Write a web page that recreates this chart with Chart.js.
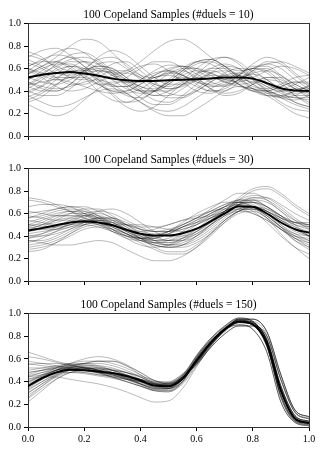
<!DOCTYPE html>
<html><head><meta charset="utf-8">
<script src="https://cdn.jsdelivr.net/npm/chart.js@4/dist/chart.umd.min.js"></script>
<style>
html,body{margin:0;padding:0;background:#fff;}
body{width:325px;height:453px;position:relative;overflow:hidden;}
canvas{position:absolute;left:0;}
</style></head><body>
<canvas id="c1" width="325" height="145" style="top:0px"></canvas>
<canvas id="c2" width="325" height="145" style="top:145px"></canvas>
<canvas id="c3" width="325" height="163" style="top:290px"></canvas>
<script>
// x positions of every curve value
const xGrid = [0,0.05,0.1,0.15,0.2,0.25,0.3,0.35,0.4,0.45,0.5,0.55,0.6,0.65,0.7,0.75,0.8,0.85,0.9,0.95,1.0];
const xTicks = [0,0.2,0.4,0.6,0.8,1.0];
const yTicks = [0,0.2,0.4,0.6,0.8,1.0];
const titles = ["100 Copeland Samples (#duels = 10)","100 Copeland Samples (#duels = 30)","100 Copeland Samples (#duels = 150)"];

// Panel 1 (#duels = 10)
const mean10 = [.52,.545,.56,.57,.555,.535,.51,.495,.49,.49,.495,.50,.505,.51,.52,.52,.51,.47,.425,.405,.40];
const samples10 = [
[.62,.68,.72,.70,.62, .52,.45,.44,.50,.58, .63,.62,.55,.48,.45, .50,.58,.60,.52,.42, .38],
[.40,.45,.55,.62,.60, .50,.38,.30,.32,.40, .48,.52,.50,.45,.44, .50,.55,.50,.40,.30, .26],
[.75,.70,.60,.52,.50, .56,.64,.66,.58,.48, .42,.45,.55,.65,.70, .66,.56,.46,.42,.46, .52],
[.30,.35,.45,.55,.60, .58,.50,.42,.38,.40, .48,.58,.66,.68,.62, .52,.42,.36,.35,.40, .45],
[.55,.62,.66,.62,.52, .40,.32,.30,.36,.46, .55,.58,.52,.42,.36, .38,.46,.52,.50,.42, .34],
[.48,.42,.40,.46,.58, .70,.76,.72,.62,.52, .46,.46,.52,.60,.64, .60,.50,.40,.34,.32, .36],
[.65,.60,.52,.46,.46, .52,.58,.58,.52,.44, .38,.36,.40,.48,.56, .60,.58,.50,.42,.38, .40],
[.35,.40,.50,.60,.66, .64,.56,.46,.40,.40, .46,.56,.64,.66,.60, .50,.42,.40,.44,.48, .46],
[.58,.66,.74,.78,.74, .64,.54,.48,.48,.54, .60,.62,.58,.52,.50, .54,.60,.58,.48,.36, .28],
[.45,.48,.50,.48,.44, .40,.38,.40,.46,.52, .54,.50,.44,.40,.42, .50,.60,.64,.60,.50, .42],
[.28,.22,.18,.22,.32, .42,.48,.48,.44,.40, .40,.46,.54,.60,.60, .54,.46,.40,.36,.34, .32],
[.70,.76,.78,.72,.62, .54,.52,.56,.62,.64, .58,.48,.40,.38,.44, .54,.62,.62,.54,.44, .38],
[.50,.56,.62,.68,.70, .66,.56,.44,.34,.28, .28,.34,.42,.50,.54, .54,.50,.44,.38,.34, .34],
[.60,.54,.50,.52,.60, .68,.70,.64,.54,.46, .44,.50,.60,.68,.70, .64,.52,.40,.30,.24, .22],
[.42,.50,.58,.62,.58, .48,.36,.26,.22,.26, .36,.46,.52,.52,.48, .46,.48,.52,.52,.46, .40],
[.52,.48,.46,.50,.58, .62,.60,.52,.44,.42, .48,.58,.66,.68,.62, .52,.44,.42,.46,.52, .54],
[.38,.44,.52,.56,.54, .46,.40,.40,.46,.54, .58,.54,.46,.40,.40, .48,.58,.66,.64,.54, .44],
[.68,.62,.56,.54,.58, .62,.60,.52,.42,.36, .36,.42,.50,.56,.58, .54,.46,.38,.34,.36, .42],
[.46,.54,.64,.72,.74, .68,.58,.50,.48,.52, .56,.54,.48,.44,.46, .54,.64,.70,.66,.56, .46],
[.58,.52,.44,.40,.42, .48,.54,.56,.52,.46, .42,.44,.50,.54,.52, .46,.40,.36,.36,.40, .44],
[.32,.38,.46,.52,.52, .46,.40,.38,.42,.50, .58,.62,.60,.54,.48, .44,.42,.40,.36,.30, .26],
[.62,.66,.66,.60,.52, .46,.46,.52,.60,.66, .66,.60,.50,.42,.38, .40,.46,.50,.48,.42, .36],
[.55,.60,.64,.64,.58, .50,.44,.44,.50,.56, .58,.54,.48,.46,.50, .56,.60,.56,.46,.36, .30],
[.44,.40,.40,.46,.56, .64,.66,.60,.50,.40, .34,.34,.40,.48,.54, .56,.52,.46,.40,.36, .36],
[.72,.68,.62,.58,.58, .60,.58,.50,.40,.32, .30,.36,.46,.56,.62, .60,.52,.44,.40,.40, .44],
[.50,.58,.66,.70,.66, .56,.44,.36,.34,.40, .50,.60,.66,.64,.56, .46,.40,.40,.44,.48, .48],
[.40,.36,.36,.42,.52, .58,.56,.48,.40,.36, .40,.48,.56,.58,.54, .46,.40,.38,.40,.42, .42],
[.56,.62,.70,.80,.86, .84,.74,.62,.54,.52, .56,.60,.60,.56,.52, .52,.56,.58,.54,.46, .40],
[.48,.44,.42,.44,.48, .50,.46,.38,.30,.24, .22,.26,.34,.42,.48, .50,.48,.42,.34,.28, .24],
[.60,.56,.52,.52,.56, .58,.54,.46,.40,.40, .46,.54,.58,.56,.50, .48,.52,.58,.62,.60, .54],
[.45,.52,.60,.66,.66, .60,.56,.58,.66,.76, .84,.86,.80,.70,.62, .58,.60,.64,.66,.62, .56],
[.36,.30,.26,.28,.34, .40,.42,.38,.30,.22, .18,.18,.24,.32,.40, .44,.42,.36,.28,.20, .16]
];

// Panel 2 (#duels = 30)
const mean30 = [.45,.47,.495,.52,.53,.52,.495,.455,.42,.405,.405,.425,.465,.53,.60,.665,.66,.60,.52,.46,.43];
const samples30 = [
[.60,.62,.64,.66,.66, .62,.56,.50,.46,.44, .46,.50,.56,.64,.72, .78,.78,.72,.62,.54, .50],
[.30,.32,.36,.42,.48, .50,.48,.42,.36,.32, .30,.32,.38,.46,.56, .64,.66,.62,.54,.46, .40],
[.45,.50,.56,.60,.60, .56,.50,.44,.40,.40, .42,.46,.50,.56,.62, .68,.70,.66,.58,.48, .40],
[.72,.70,.66,.62,.58, .54,.50,.46,.42,.38, .36,.38,.42,.50,.58, .64,.66,.62,.56,.52, .52],
[.38,.42,.48,.54,.58, .58,.54,.46,.38,.32, .30,.32,.40,.50,.60, .68,.70,.66,.58,.50, .46],
[.50,.50,.52,.56,.60, .62,.60,.54,.48,.44, .44,.48,.54,.60,.66, .70,.68,.60,.48,.36, .28],
[.28,.30,.34,.40,.46, .48,.46,.42,.38,.36, .38,.44,.52,.60,.66, .68,.64,.56,.46,.38, .34],
[.56,.58,.62,.64,.62, .56,.48,.42,.38,.38, .42,.48,.54,.60,.66, .72,.76,.74,.66,.56, .48],
[.42,.44,.46,.50,.54, .56,.54,.48,.42,.36, .32,.32,.36,.44,.54, .62,.66,.64,.58,.52, .48],
[.62,.60,.58,.58,.58, .56,.52,.46,.40,.36, .36,.40,.46,.54,.62, .70,.74,.72,.64,.54, .46],
[.34,.38,.44,.52,.58, .60,.56,.48,.40,.34, .32,.36,.44,.54,.62, .66,.62,.52,.40,.30, .24],
[.48,.46,.46,.48,.52, .54,.54,.50,.46,.44, .44,.46,.50,.56,.62, .66,.66,.62,.56,.52, .50],
[.52,.56,.60,.62,.60, .54,.46,.38,.32,.30, .32,.38,.46,.56,.64, .70,.70,.64,.56,.50, .48],
[.40,.40,.42,.46,.50, .52,.52,.50,.48,.48, .50,.54,.58,.62,.64, .64,.60,.54,.46,.40, .38],
[.66,.68,.68,.66,.60, .52,.44,.38,.36,.38, .44,.52,.60,.66,.70, .70,.66,.58,.48,.40, .36],
[.36,.36,.40,.46,.52, .56,.56,.52,.46,.40, .36,.36,.40,.48,.58, .68,.74,.74,.68,.60, .54],
[.46,.50,.54,.56,.54, .50,.44,.40,.38,.40, .44,.50,.56,.62,.68, .72,.70,.62,.50,.40, .34],
[.54,.52,.50,.50,.52, .54,.52,.46,.38,.30, .26,.26,.32,.42,.54, .62,.64,.60,.52,.44, .40],
[.44,.48,.54,.60,.64, .64,.58,.50,.44,.42, .44,.48,.52,.58,.64, .68,.66,.58,.48,.42, .40],
[.32,.34,.38,.44,.50, .52,.50,.44,.38,.34, .34,.38,.44,.52,.62, .72,.80,.82,.76,.66, .58],
[.58,.56,.54,.54,.54, .52,.48,.42,.38,.38, .42,.48,.52,.56,.60, .64,.64,.60,.54,.48, .44],
[.48,.52,.58,.62,.62, .58,.52,.46,.44,.46, .50,.54,.56,.58,.62, .68,.72,.70,.62,.50, .40],
[.40,.42,.46,.50,.52, .50,.46,.40,.34,.28, .24,.24,.30,.40,.52, .62,.66,.62,.54,.46, .42],
[.74,.72,.68,.62,.56, .52,.50,.50,.50,.48, .46,.44,.46,.52,.60, .66,.66,.60,.50,.42, .36],
[.50,.48,.48,.50,.56, .62,.64,.60,.52,.44, .40,.40,.44,.52,.62, .70,.72,.66,.56,.46, .40],
[.26,.28,.34,.42,.50, .56,.56,.50,.42,.36, .34,.36,.42,.50,.58, .62,.60,.54,.46,.38, .32],
[.44,.46,.48,.52,.54, .54,.50,.44,.38,.34, .32,.34,.40,.50,.62, .74,.82,.84,.78,.68, .60],
[.56,.60,.64,.66,.64, .58,.50,.42,.36,.32, .30,.30,.34,.42,.52, .60,.62,.56,.46,.36, .30],
[.38,.40,.44,.48,.50, .48,.44,.40,.38,.40, .44,.50,.56,.62,.68, .70,.66,.56,.42,.30, .20],
[.50,.54,.58,.58,.56, .52,.46,.40,.36,.34, .36,.42,.50,.58,.66, .72,.72,.66,.58,.52, .50],
[.36,.34,.32,.32,.34, .36,.34,.28,.22,.18, .18,.22,.30,.42,.54, .62,.64,.58,.48,.38, .30]
];

// Panel 3 (#duels = 150)
const mean150 = [.36,.43,.48,.505,.50,.49,.475,.45,.41,.365,.36,.425,.585,.74,.86,.93,.905,.74,.32,.075,.035];
const samples150 = [
[.30,.38,.45,.50,.52, .52,.50,.46,.40,.35, .34,.42, .60,.75,.87,.94,.92,.77,.36,.10,.05],
[.45,.48,.50,.51,.50, .48,.46,.44,.42,.40, .40,.46, .56,.72,.85,.95,.95,.84,.46,.15,.09],
[.25,.34,.42,.48,.50, .50,.48,.44,.38,.33, .32,.40, .61,.76,.86,.90,.86,.66,.22,.04,.01],
[.55,.56,.56,.55,.53, .50,.47,.44,.40,.37, .38,.46, .63,.78,.89,.96,.93,.72,.26,.05,.02],
[.40,.46,.52,.56,.56, .54,.50,.45,.40,.36, .36,.44, .55,.70,.82,.89,.89,.80,.42,.13,.07],
[.32,.40,.47,.52,.54, .54,.52,.48,.42,.36, .34,.40, .585,.74,.86,.93,.905,.74,.32,.075,.035],
[.48,.50,.51,.50,.48, .46,.45,.43,.40,.37, .37,.44, .57,.73,.85,.92,.90,.71,.28,.06,.03],
[.62,.60,.57,.54,.52, .51,.50,.48,.44,.39, .36,.42, .56,.72,.85,.95,.95,.84,.46,.15,.09],
[.22,.32,.42,.48,.50, .48,.45,.42,.38,.34, .33,.41, .60,.75,.87,.94,.92,.77,.36,.10,.05],
[.38,.44,.50,.54,.56, .56,.54,.50,.44,.38, .36,.43, .61,.76,.86,.90,.86,.66,.22,.04,.01],
[.42,.46,.50,.52,.52, .50,.48,.45,.42,.38, .37,.45, .585,.74,.86,.93,.905,.74,.32,.075,.035],
[.35,.42,.48,.51,.51, .49,.46,.42,.37,.32, .31,.39, .55,.70,.82,.89,.89,.80,.42,.13,.07],
[.50,.52,.54,.56,.58, .58,.56,.52,.46,.40, .38,.45, .63,.78,.89,.96,.93,.72,.26,.05,.02],
[.28,.36,.44,.48,.48, .46,.44,.42,.40,.38, .39,.47, .57,.73,.85,.92,.90,.71,.28,.06,.03],
[.46,.50,.53,.54,.52, .48,.44,.40,.36,.32, .32,.40, .60,.75,.87,.94,.92,.77,.36,.10,.05],
[.36,.42,.48,.53,.56, .58,.58,.54,.48,.41, .38,.44, .585,.74,.86,.93,.905,.74,.32,.075,.035],
[.66,.62,.58,.55,.52, .50,.48,.46,.42,.38, .37,.44, .57,.73,.85,.92,.90,.71,.28,.06,.03],
[.33,.40,.46,.50,.50, .48,.44,.40,.36,.33, .34,.42, .56,.72,.85,.95,.95,.84,.46,.15,.09],
[.44,.48,.52,.55,.55, .53,.50,.46,.42,.39, .39,.46, .62,.77,.88,.95,.93,.76,.33,.08,.03],
[.30,.38,.46,.52,.54, .52,.48,.43,.38,.34, .34,.42, .61,.76,.86,.90,.86,.66,.22,.04,.01],
[.52,.52,.52,.52,.50, .47,.44,.42,.40,.38, .38,.44, .55,.70,.82,.89,.89,.80,.42,.13,.07],
[.40,.45,.50,.52,.52, .51,.50,.48,.45,.41, .39,.45, .60,.75,.87,.94,.92,.77,.36,.10,.05],
[.56,.54,.53,.54,.56, .58,.58,.54,.46,.38, .34,.40, .585,.74,.86,.93,.905,.74,.32,.075,.035],
[.37,.44,.50,.53,.53, .50,.46,.42,.38,.35, .35,.43, .63,.78,.89,.96,.93,.72,.26,.05,.02],
[.26,.36,.45,.50,.52, .52,.51,.48,.44,.39, .37,.44, .57,.73,.85,.92,.90,.71,.28,.06,.03],
[.48,.50,.52,.53,.52, .50,.47,.43,.38,.34, .34,.42, .58,.74,.86,.93,.93,.81,.41,.13,.08],
[.34,.42,.50,.56,.60, .62,.60,.55,.48,.41, .38,.44, .60,.75,.87,.94,.92,.77,.36,.10,.05],
[.44,.46,.48,.48,.47, .45,.43,.40,.36,.32, .31,.38, .54,.71,.84,.92,.91,.76,.34,.09,.04],
[.39,.45,.50,.52,.51, .49,.47,.45,.42,.38, .37,.44, .62,.77,.88,.95,.93,.76,.33,.08,.03],
[.58,.56,.54,.52,.50, .48,.46,.43,.39,.35, .35,.43, .56,.72,.85,.95,.95,.84,.46,.15,.09],
[.42,.44,.44,.42,.40, .38,.35,.31,.26,.22, .23,.34, .53,.71,.85,.92,.91,.76,.34,.09,.04]
];

const FONT = 'Liberation Serif';
const SPINE = '#333';

function toXY(vals){ return xGrid.map((x,i)=>({x:x, y:vals[i]})); }

function build(id, title, mean, samples, showX, xAxisH){
  const datasets = [{data: toXY(mean), borderColor:'#000', borderWidth:2, pointRadius:0, cubicInterpolationMode:'monotone'}];
  samples.forEach(s => datasets.push({data: toXY(s), borderColor:'rgba(0,0,0,0.27)', borderWidth:1, pointRadius:0, cubicInterpolationMode:'monotone'}));
  new Chart(document.getElementById(id), {
    type:'line',
    data:{datasets},
    options:{
      responsive:false, animation:false, events:[],
      layout:{padding:{left:0,right:16,top:0,bottom:0}},
      plugins:{
        legend:{display:false}, tooltip:{enabled:false},
        title:{display:true, fullSize:false, text:title, color:'#000', font:{family:FONT, size:11.5, weight:'normal', lineHeight:1}, padding:{top:9, bottom:3}}
      },
      scales:{
        x:{type:'linear', position:'bottom', min:0, max:1,
          afterBuildTicks(s){ s.ticks = xTicks.map(v=>({value:v})); },
          ticks:{display:showX, color:'#000', font:{family:FONT, size:10}, padding:2, maxRotation:0, callback:v=>v.toFixed(1)},
          grid:{display:true, drawOnChartArea:false, drawTicks:true, tickLength:4, color:'#000'},
          border:{display:true, color:SPINE, width:1},
          afterFit(s){ s.height = xAxisH; }
        },
        y:{type:'linear', position:'left', min:0, max:1,
          afterBuildTicks(s){ s.ticks = yTicks.map(v=>({value:v})); },
          ticks:{color:'#000', font:{family:FONT, size:10}, padding:3, callback:v=>v.toFixed(1)},
          grid:{display:true, drawOnChartArea:false, drawTicks:true, tickLength:4, color:'#000'},
          border:{display:true, color:SPINE, width:1},
          afterFit(s){ s.width = 28; }
        },
        xTop:{type:'linear', position:'top', min:0, max:1, ticks:{display:false}, grid:{display:false},
          border:{display:true, color:SPINE, width:1}, afterFit(s){ s.height = 0; }},
        yRight:{type:'linear', position:'right', min:0, max:1, ticks:{display:false}, grid:{display:false},
          border:{display:true, color:SPINE, width:1}, afterFit(s){ s.width = 0; }}
      }
    }
  });
}

build('c1', titles[0], mean10, samples10, false, 6);
build('c2', titles[1], mean30, samples30, false, 5);
build('c3', titles[2], mean150, samples150, true, 26);
</script>
</body></html>
